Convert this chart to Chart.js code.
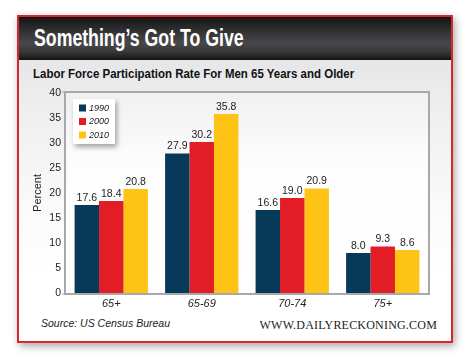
<html>
<head>
  <title>Something's Got To Give</title>
  <style>
    body { margin: 0; background: #fff; width: 470px; height: 359px; overflow: hidden; position: relative; }
    .card {
      position: absolute; left: 17px; top: 15px; width: 432px; height: 324px;
      border: 2px solid #d8262e;
      background: linear-gradient(#dedfe1 0px, #eeeeef 90px, #fbfbfb 200px, #ffffff 260px);
      box-shadow: 2px 3px 8px rgba(0,0,0,0.35);
    }
    .head {
      position: absolute; left: 0; top: 0; width: 432px; height: 43px;
      background: linear-gradient(#151515 0%, #333335 35%, #48484a 60%, #3a3a3c 80%, #141414 100%);
    }
    .head span {
      position: absolute; left: 15px; top: 8px; color: #fff; white-space: nowrap;
      font: bold 23px "Liberation Sans", sans-serif;
      transform: scaleX(0.77); transform-origin: 0 0;
    }
    .sub {
      position: absolute; left: 14px; top: 49px; color: #111; white-space: nowrap;
      font: bold 13.5px "Liberation Sans", sans-serif;
      transform: scaleX(0.85); transform-origin: 0 0;
    }
    .src {
      position: absolute; left: 22px; top: 300px; color: #222;
      font: italic 10.5px "Liberation Sans", sans-serif;
    }
    .web {
      position: absolute; right: 14px; top: 301px; color: #222;
      font: 12px "Liberation Serif", serif; letter-spacing: 0.2px;
    }
    #chartWrap { position: absolute; left: 0; top: 0; width: 470px; height: 359px; }
  </style>
</head>
<body>
  <div class="card">
    <div class="head"><span>Something’s Got To Give</span></div>
    <div class="sub">Labor Force Participation Rate For Men 65 Years and Older</div>
    <div class="src">Source: US Census Bureau</div>
    <div class="web">WWW.DAILYRECKONING.COM</div>
  </div>
  <div id="chartWrap"><canvas id="myChart" width="470" height="359"></canvas></div>

  <script src="https://cdn.jsdelivr.net/npm/chart.js"></script>
  <script>
    var categories = ['65+', '65-69', '70-74', '75+'];
    var years = ['1990', '2000', '2010'];
    var values1990 = [17.6, 27.9, 16.6, 8.0];
    var values2000 = [18.4, 30.2, 19.0, 9.3];
    var values2010 = [20.8, 35.8, 20.9, 8.6];
    var colors = ['#073a58', '#e21d25', '#fec315'];
    var yTicks = [0, 5, 10, 15, 20, 25, 30, 35, 40];

    // plot background + frame
    var framePlugin = {
      id: 'frame',
      beforeDatasetsDraw: function (chart) {
        var a = chart.chartArea, ctx = chart.ctx;
        ctx.save();
        var g = ctx.createLinearGradient(0, a.top, 0, a.bottom);
        g.addColorStop(0, '#f0f0f1');
        g.addColorStop(0.35, '#fdfdfd');
        g.addColorStop(1, '#ffffff');
        ctx.fillStyle = g;
        ctx.fillRect(a.left, a.top, a.right - a.left, a.bottom - a.top);
        ctx.restore();
      },
      afterDatasetsDraw: function (chart) {
        var a = chart.chartArea, ctx = chart.ctx;
        ctx.save();
        ctx.strokeStyle = '#a7a8aa';
        ctx.lineWidth = 2;
        ctx.strokeRect(a.left - 1, a.top - 1, a.right - a.left + 2, a.bottom - a.top + 2);
        ctx.beginPath();
        ctx.moveTo(a.left - 4, a.top - 1);
        ctx.lineTo(a.left, a.top - 1);
        ctx.moveTo(a.left - 4, a.bottom + 1);
        ctx.lineTo(a.left, a.bottom + 1);
        ctx.lineWidth = 1;
        ctx.stroke();
        ctx.restore();
      }
    };

    // value labels above bars
    var labelPlugin = {
      id: 'valueLabels',
      afterDatasetsDraw: function (chart) {
        var ctx = chart.ctx;
        ctx.save();
        ctx.font = '10.5px "Liberation Sans", sans-serif';
        ctx.fillStyle = '#222';
        ctx.textAlign = 'center';
        ctx.textBaseline = 'bottom';
        chart.data.datasets.forEach(function (ds, i) {
          chart.getDatasetMeta(i).data.forEach(function (bar, j) {
            ctx.fillText(ds.data[j].toFixed(1), bar.x, bar.y - 2);
          });
        });
        ctx.restore();
      }
    };

    // boxed legend inside plot
    var legendPlugin = {
      id: 'boxLegend',
      afterDraw: function (chart) {
        var a = chart.chartArea, ctx = chart.ctx;
        var x = a.left + 7, y = a.top + 6, w = 42, h = 45;
        ctx.save();
        ctx.shadowColor = 'rgba(0,0,0,0.35)';
        ctx.shadowBlur = 5;
        ctx.shadowOffsetX = 2;
        ctx.shadowOffsetY = 3;
        ctx.fillStyle = '#fff';
        ctx.fillRect(x, y, w, h);
        ctx.restore();
        ctx.save();
        ctx.font = 'italic 9px "Liberation Sans", sans-serif';
        ctx.textBaseline = 'middle';
        chart.data.datasets.forEach(function (ds, i) {
          var cy = y + 9 + i * 13.5;
          ctx.fillStyle = ds.backgroundColor;
          ctx.fillRect(x + 6, cy - 3.5, 7, 7);
          ctx.fillStyle = '#222';
          ctx.fillText(ds.label, x + 16, cy);
        });
        ctx.restore();
      }
    };

    var config = {
      type: 'bar',
      data: {
        labels: categories,
        datasets: years.map(function (yr, i) {
          return {
            label: yr,
            data: [values1990, values2000, values2010][i],
            backgroundColor: colors[i],
            borderWidth: 0
          };
        })
      },
      options: {
        responsive: false,
        animation: false,
        layout: { padding: { left: 31, right: 42, top: 93, bottom: 46 } },
        datasets: { bar: { categoryPercentage: 0.81, barPercentage: 1.0 } },
        plugins: {
          legend: { display: false },
          tooltip: { enabled: false }
        },
        scales: {
          x: {
            grid: { display: false, drawTicks: false },
            border: { display: false },
            ticks: {
              color: '#222',
              padding: 4,
              font: { family: '"Liberation Sans", sans-serif', size: 11, style: 'italic' }
            },
            afterFit: function (scale) { scale.height = 20; }
          },
          y: {
            min: 0,
            max: 40,
            afterBuildTicks: function (scale) {
              scale.ticks = yTicks.map(function (v) { return { value: v }; });
            },
            grid: { display: false, drawTicks: false },
            border: { display: false },
            ticks: {
              color: '#222',
              padding: 5,
              font: { family: '"Liberation Sans", sans-serif', size: 10.5 }
            },
            title: {
              display: true,
              text: 'Percent',
              color: '#222',
              padding: 0,
              font: { family: '"Liberation Sans", sans-serif', size: 11 }
            },
            afterFit: function (scale) { scale.width = 35; }
          }
        }
      },
      plugins: [framePlugin, labelPlugin, legendPlugin]
    };

    new Chart(document.getElementById('myChart'), config);
  </script>
</body>
</html>
